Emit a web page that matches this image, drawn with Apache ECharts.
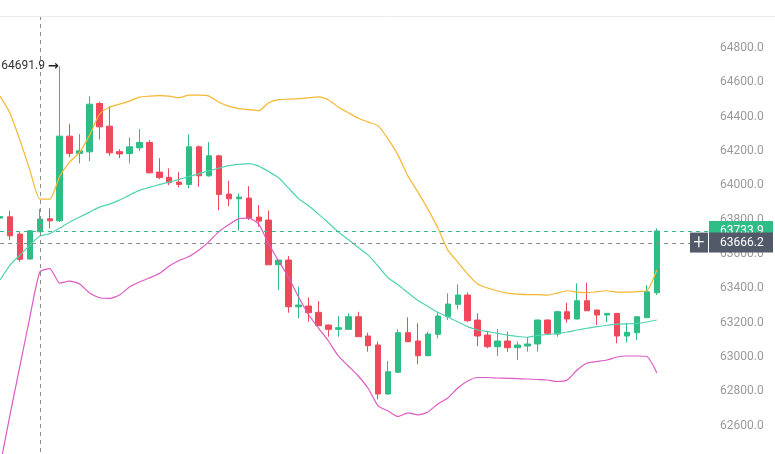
<!DOCTYPE html>
<html><head><meta charset="utf-8">
<script src="https://cdn.jsdelivr.net/npm/echarts@6/dist/echarts.min.js"></script>
<style>html,body{margin:0;padding:0;background:#fff;overflow:hidden}#main{width:775px;height:454px}</style>
</head><body><div id="main"></div>
<script>
// ---- data ----
const categories = ['1','2','3','4','5','6','7','8','9','10','11','12','13','14','15','16','17','18','19','20',
  '21','22','23','24','25','26','27','28','29','30','31','32','33','34','35','36','37','38','39','40',
  '41','42','43','44','45','46','47','48','49','50','51','52','53','54','55','56','57','58','59','60',
  '61','62','63','64','65','66','67'];
const padCategories = ['p1','p2','p3','p4','p5'];

const opens = [63808.8,63816.4,63715.7,63570.2,63729.1,63804.8,63793.1,64286.1,64185.4,64194.7,
  64476.4,64344.3,64195.9,64184.2,64218.0,64249.4,64076.6,64046.3,64018.4,64005.0,
  64223.8,64055.0,64171.4,63948.5,63921.2,63925.2,63814.7,63797.2,63537.0,63564.4,
  63292.6,63296.7,63260.0,63186.1,63161.1,63161.1,63234.4,63122.1,63069.7,62784.5,
  62910.8,63141.3,63093.0,63007.4,63132.0,63234.4,63306.6,63360.7,63215.2,63127.9,
  63059.8,63093.0,63054.0,63063.9,63075.5,63215.2,63133.7,63263.5,63221.0,63327.5,
  63273.4,63244.3,63254.2,63122.1,63141.3,63228.6,63374.1];
const closes = [63817.6,63705.8,63568.5,63734.9,63803.0,63793.1,64286.1,64185.4,64200.5,64472.3,
  64340.2,64188.9,64182.5,64223.8,64249.4,64072.5,64044.5,64015.4,64005.0,64223.8,
  64055.0,64171.4,63946.8,63921.2,63931.1,63808.8,63791.4,63537.0,63564.4,63292.6,
  63302.5,63257.7,63182.0,63161.1,63170.4,63234.4,63118.0,63065.7,62784.5,62914.3,
  63141.3,63088.9,63007.4,63133.7,63238.5,63308.3,63360.7,63211.1,63122.1,63059.8,
  63093.0,63054.0,63069.7,63075.5,63215.2,63137.8,63263.5,63221.0,63327.5,63269.3,
  63244.3,63254.2,63122.1,63143.6,63234.4,63379.9,63733.9];
const lows = [63803.0,63680.8,63554.5,63567.3,63727.4,63748.9,63785.6,64165.6,64127.2,64140.6,
  64266.9,64171.4,64158.0,64127.2,64198.8,64069.0,64035.8,64000.9,63987.5,63981.7,
  63991.0,64050.0,63855.4,63878.7,63734.9,63797.2,63758.2,63535.3,63389.8,63257.7,
  63225.1,63205.3,63180.0,63118.0,63118.0,63159.0,63116.0,63030.7,62753.7,62778.7,
  62908.0,63087.0,62957.4,63005.0,63108.7,63215.2,63277.5,63205.3,63063.9,63050.5,
  63005.7,63030.7,62982.4,63030.7,63030.7,63136.0,63118.0,63199.5,63219.0,63268.0,
  63186.1,63203.6,63079.6,63085.4,63098.8,63227.0,63360.7];
const highs = [63826.3,63851.3,63729.1,63738.0,63861.2,63865.3,64691.9,64355.9,64297.7,64518.9,
  64485.7,64460.7,64210.4,64278.5,64326.8,64262.8,64158.0,64098.1,64078.3,64296.0,
  64232.0,64251.2,64177.2,64025.9,63952.6,63995.1,63884.5,63853.6,63566.0,63587.7,
  63409.0,63347.3,63325.8,63188.0,63238.5,63254.2,63263.5,63141.3,63088.9,62976.6,
  63161.1,63230.9,63196.0,63147.1,63260.0,63370.6,63423.0,63376.4,63254.2,63152.9,
  63162.8,63147.1,63088.9,63112.2,63218.0,63219.3,63269.3,63315.9,63428.8,63432.3,
  63275.0,63256.0,63256.0,63199.5,63236.0,63418.9,63748.9];

const upperBand = [64518.9,64419.9,64262.8,64088.2,63919.4,63919.4,64053.3,64134.8,64193.0,64291.9,
  64414.1,64454.7,64472.3,64489.8,64513.1,64518.9,64521.8,64518.9,64510.2,64524.7,
  64524.7,64518.9,64484.0,64460.7,64446.1,64440.3,64434.5,64481.1,64498.5,64501.4,
  64504.3,64510.2,64514.8,64498.5,64454.7,64422.9,64390.8,64367.6,64346.0,64268.6,
  64175.5,64053.3,63960.2,63861.2,63751.0,63622.6,63552.8,63482.9,63424.7,63401.4,
  63384.0,63372.3,63366.5,63363.6,63363.6,63360.7,63372.3,63385.7,63378.2,63374.1,
  63381.1,63385.7,63378.2,63378.2,63381.1,63385.7,63506.2];
const middleBand = [63448.0,63535.3,63593.5,63651.7,63704.1,63718.6,63750.6,63785.6,63814.7,63843.8,
  63872.9,63890.3,63913.6,63942.7,63970.1,63987.5,64003.8,64018.4,64034.1,64050.4,
  64067.9,64084.3,64099.8,64114.4,64121.4,64126.0,64111.5,64079.5,64043.4,63983.4,
  63922.4,63880.4,63832.1,63781.5,63727.4,63683.7,63637.7,63593.5,63529.5,63461.4,
  63420.4,63373.5,63328.7,63294.3,63260.6,63232.7,63204.7,63176.8,63157.0,63147.7,
  63137.2,63127.3,63119.2,63114.5,63125.0,63130.8,63136.6,63145.4,63157.0,63167.4,
  63177.3,63184.9,63190.8,63193.1,63195.4,63203.6,63215.2];
const lowerBand = [62365.5,62662.3,62947.5,63232.7,63494.6,63514.9,63430.5,63442.2,63424.7,63372.3,
  63345.0,63341.5,63360.7,63407.1,63436.4,63459.6,63485.8,63529.5,63561.5,63584.8,
  63622.6,63672.1,63729.8,63771.0,63805.9,63808.8,63773.9,63657.5,63558.6,63462.5,
  63349.0,63247.3,63168.6,63093.0,63005.7,62947.5,62889.3,62816.5,62714.7,62685.6,
  62653.6,62674.0,62662.3,62679.8,62726.3,62761.2,62819.4,62860.2,62880.6,62880.6,
  62877.6,62875.9,62874.1,62871.8,62868.9,62866.0,62857.3,62866.0,62924.2,62964.9,
  62973.6,62982.4,62999.9,63005.7,63005.7,63002.8,62908.5];

const lastPrice = 63733.9;
const crossPrice = 63666.2;
const crossIndex = 4;
const yTickMin = 62400, yTickMax = 64980, yTickStep = 200;

// ---- styles ----
const UP = '#2ebd85', DOWN = '#f0485b';
const GREY_BOX = '#525a69';
const FONT = 'Roboto, "Liberation Sans", sans-serif';

const candleData = opens.map((o, i) => [o, closes[i], lows[i], highs[i]]);

const chart = echarts.init(document.getElementById('main'), null, {renderer: 'canvas', width: 775, height: 454});

const option = {
  animation: false,
  backgroundColor: '#ffffff',
  grid: {left: -4.93, right: 63.5, top: 17, bottom: -6, outerBoundsMode: 'none', containLabel: false},
  xAxis: {
    type: 'category', data: categories.concat(padCategories), boundaryGap: true,
    axisLine: {show: false}, axisTick: {show: false}, axisLabel: {show: false}, splitLine: {show: false}
  },
  yAxis: {
    type: 'value', position: 'right', min: yTickMin, max: yTickMax, interval: yTickStep,
    axisLine: {show: false}, axisTick: {show: false}, splitLine: {show: false},
    axisLabel: {
      color: '#9a9a9a', fontSize: 12, fontFamily: FONT, margin: 8.5,
      showMinLabel: false, showMaxLabel: false,
      formatter: v => (v % 200 === 0 && v > yTickMin) ? v.toFixed(1) : ''
    }
  },
  series: [
    {
      type: 'candlestick', data: candleData, barWidth: 6, z: 2,
      itemStyle: {color: UP, color0: DOWN, borderColor: UP, borderColor0: DOWN, borderWidth: 1},
      markPoint: {
        silent: true, symbol: 'circle', symbolSize: 0,
        data: [{type: 'max', valueDim: 'highest'}],
        label: {
          show: true, position: 'left', distance: 1, color: '#333', fontSize: 12, fontFamily: FONT,
          formatter: p => p.value.toFixed(1) + ' {a|→}',
          rich: {a: {fontSize: 13, fontWeight: 'bold', color: '#222', fontFamily: 'DejaVu Sans'}}
        }
      },
      markLine: {
        silent: true, symbol: ['none', 'none'], animation: false,
        label: {show: false},
        lineStyle: {color: '#8a8a8a', type: [4, 4], width: 1},
        data: [{xAxis: crossIndex}]
      }
    },
    {type: 'line', data: upperBand, symbol: 'none', smooth: 0.2, z: 3,
     lineStyle: {color: '#f5b730', width: 1.2}},
    {type: 'line', data: middleBand, symbol: 'none', smooth: 0.2, z: 3,
     lineStyle: {color: '#4fd3b2', width: 1.2}},
    {type: 'line', data: lowerBand, symbol: 'none', smooth: 0.2, z: 3,
     lineStyle: {color: '#de5ac2', width: 1.2}}
  ]
};
chart.setOption(option);

// price lines and axis labels, positioned through the chart's own scale
const yLast = chart.convertToPixel({yAxisIndex: 0}, lastPrice);
const yCross = chart.convertToPixel({yAxisIndex: 0}, crossPrice);
chart.setOption({
  graphic: [
    {type: 'line', z: 50, shape: {x1: 0, y1: 16.5, x2: 775, y2: 16.5}, style: {stroke: '#ececec', lineWidth: 1}},
    {type: 'line', z: 60, shape: {x1: 0, y1: Math.round(yLast) + 0.5, x2: 709, y2: Math.round(yLast) + 0.5},
     style: {stroke: '#3bb98c', lineWidth: 1, lineDash: [4, 4]}},
    {type: 'line', z: 60, shape: {x1: 0, y1: Math.round(yCross) + 0.5, x2: 690, y2: Math.round(yCross) + 0.5},
     style: {stroke: '#8a8a8a', lineWidth: 1, lineDash: [4, 4]}},
    {type: 'rect', z: 100, shape: {x: 709, y: yLast - 10, width: 64, height: 20}, style: {fill: UP}},
    {type: 'text', z: 101, x: 720, y: yLast, style: {text: lastPrice.toFixed(1), fill: '#fff', font: '12px ' + FONT, textVerticalAlign: 'middle'}},
    {type: 'rect', z: 102, shape: {x: 690, y: yCross - 10, width: 18, height: 20}, style: {fill: GREY_BOX}},
    {type: 'text', z: 103, x: 699, y: yCross, style: {text: '+', fill: '#fff', font: '300 20px ' + FONT, textAlign: 'center', textVerticalAlign: 'middle'}},
    {type: 'rect', z: 102, shape: {x: 709, y: yCross - 10, width: 64, height: 20}, style: {fill: GREY_BOX}},
    {type: 'text', z: 103, x: 720, y: yCross, style: {text: crossPrice.toFixed(1), fill: '#fff', font: '12px ' + FONT, textVerticalAlign: 'middle'}}
  ]
});
</script></body></html>
